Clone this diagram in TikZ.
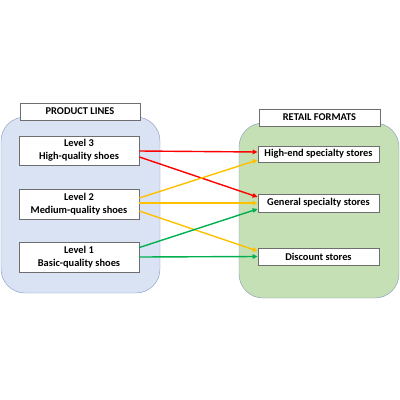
\documentclass[tikz,border=0pt]{standalone}
\usepackage{fontspec}
\setmainfont{Carlito}
\definecolor{paleblue}{RGB}{218,227,243}
\definecolor{palegreen}{RGB}{197,224,180}
\definecolor{frameblue}{RGB}{130,150,190}
\definecolor{boxgray}{RGB}{110,110,110}
\definecolor{linkred}{RGB}{255,0,0}
\definecolor{linkgold}{RGB}{255,192,0}
\definecolor{linkgreen}{RGB}{0,176,80}
\usetikzlibrary{arrows.meta}

\begin{document}
\begin{tikzpicture}[x=1pt, y=-1pt, font=\fontsize{10.4}{12.7}\selectfont\bfseries,
  labelbox/.style={draw=boxgray, fill=white, line width=0.8pt, align=center,
    inner sep=0pt, minimum width=120pt},
  link/.style={line width=1.4pt, -{Triangle[length=5pt,width=4.5pt]}}]
  \useasboundingbox (0,0) rectangle (400,400);
  % Containers
  \draw[frameblue, fill=paleblue, rounded corners=24pt] (1,117) rectangle (160,293);
  \draw[frameblue, fill=palegreen, rounded corners=24pt] (239,123) rectangle (399,298);
  % Product lines
  \node[labelbox, minimum height=17pt] (prod) at (80,111.5) {PRODUCT LINES};
  \node[labelbox, minimum height=29pt] (l3) at (79,150.5) {Level 3\\High-quality shoes};
  \node[labelbox, minimum height=30pt] (l2) at (79,204) {Level 2\\Medium-quality shoes};
  \node[labelbox, minimum height=30pt] (l1) at (79,257) {Level 1\\Basic-quality shoes};
  % Retail formats
  \node[labelbox, minimum width=121pt, minimum height=17pt] (retail) at (319.5,117.5) {RETAIL FORMATS};
  \node[labelbox, minimum width=121pt, minimum height=16pt] (high) at (318.5,154) {High-end specialty stores};
  \node[labelbox, minimum width=121pt, minimum height=18pt] (gen) at (318.5,203) {General specialty stores};
  \node[labelbox, minimum width=121pt, minimum height=17pt] (disc) at (318.5,256.5) {Discount stores};
  % Links
  \draw[link, linkred] ([yshift=-0.5pt]l3.east) -- ([yshift=2pt]high.west);
  \draw[link, linkred] ([yshift=-6.5pt]l3.east) -- ([yshift=6pt]gen.west);
  \draw[link, linkgold] ([yshift=6pt]l2.east) -- ([yshift=-6pt]high.west);
  \draw[link, linkgold] ([yshift=1pt]l2.east) -- ([yshift=0pt]gen.west);
  \draw[link, linkgold] ([yshift=-7pt]l2.east) -- ([yshift=5.5pt]disc.west);
  \draw[link, linkgreen] ([yshift=9.5pt]l1.east) -- ([yshift=-6pt]gen.west);
  \draw[link, linkgreen] ([yshift=0pt]l1.east) -- ([yshift=0pt]disc.west);
\end{tikzpicture}
\end{document}
